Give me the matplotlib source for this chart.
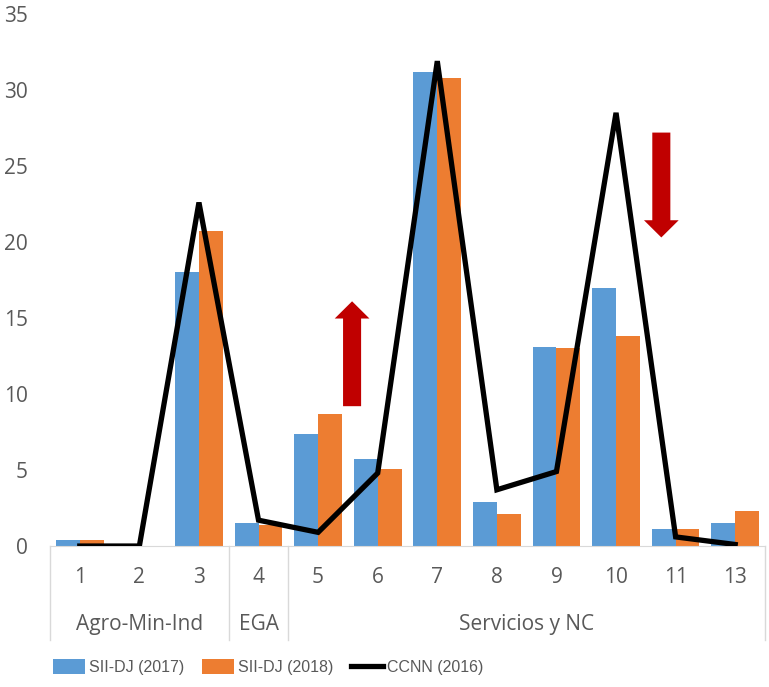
import matplotlib
matplotlib.use("Agg")
import matplotlib.pyplot as plt
from matplotlib import font_manager
import numpy as np

# Sector codes and values (percent)
sectors = ["1", "2", "3", "4", "5", "6", "7", "8", "9", "10", "11", "13"]
sii_2017 = [0.4, 0.0, 18.0, 1.5, 7.4, 5.7, 31.2, 2.9, 13.1, 17.0, 1.1, 1.5]
sii_2018 = [0.4, 0.0, 20.7, 1.4, 8.7, 5.1, 30.8, 2.1, 13.0, 13.8, 1.1, 2.3]
ccnn_2016 = [0.0, 0.0, 22.6, 1.7, 0.9, 4.8, 31.9, 3.7, 4.9, 28.5, 0.6, 0.1]

# Grouping of sectors on the second axis level: (label, first index, last index)
groups = [("Agro-Min-Ind", 0, 2), ("EGA", 3, 3), ("Servicios y NC", 4, 11)]

# Red trend arrows: (x position in category units, tail value, tip value)
arrow_up = (4.57, 9.2, 16.1)
arrow_down = (9.76, 27.2, 20.3)

BLUE = "#5B9BD5"
ORANGE = "#ED7D31"
RED = "#C00000"
GRAY_TXT = "#595959"
GRAY_LINE = "#D9D9D9"

names = {f.name for f in font_manager.fontManager.ttflist}
FONT = "Open Sans" if "Open Sans" in names else "DejaVu Sans"
LEG_FONT = "Liberation Sans" if "Liberation Sans" in names else FONT
plt.rcParams["font.family"] = FONT
FS = 15

fig = plt.figure(figsize=(7.69, 6.87), dpi=100)
ax = fig.add_axes([0.065, 0.2052, 0.9298, 0.7744])

x = np.arange(len(sectors))
w = 0.4
ax.bar(x - w / 2, sii_2017, w, color=BLUE, label="SII-DJ (2017)", zorder=2)
ax.bar(x + w / 2, sii_2018, w, color=ORANGE, label="SII-DJ (2018)", zorder=2)
ax.plot(x, ccnn_2016, color="black", lw=3.8, label="CCNN (2016)", zorder=3,
        solid_joinstyle="miter")

for xa, tail, tip in (arrow_up, arrow_down):
    ax.annotate("", xy=(xa, tip), xytext=(xa, tail),
                arrowprops=dict(arrowstyle="simple,head_width=1.25,head_length=0.62,tail_width=0.65",
                                color=RED, mutation_scale=20, shrinkA=0, shrinkB=0, lw=0),
                zorder=4)

ax.set_xlim(-0.5, len(sectors) - 0.5)
ax.set_ylim(0, 35)
ax.set_yticks(np.arange(0, 36, 5))
ax.tick_params(axis="y", length=0, pad=16, labelsize=FS, labelcolor=GRAY_TXT)
ax.set_xticks([])
for s in ("top", "right", "left"):
    ax.spines[s].set_visible(False)
ax.spines["bottom"].set_color(GRAY_LINE)

# Two-level category axis
trans = ax.get_xaxis_transform()
for i, s in enumerate(sectors):
    ax.text(i, -0.06, s, transform=trans, ha="center", va="center",
            fontsize=FS, color=GRAY_TXT)
edges = [-0.5]
for label, i0, i1 in groups:
    ax.text((i0 + i1) / 2, -0.147, label, transform=trans, ha="center", va="center",
            fontsize=FS, color=GRAY_TXT)
    edges.append(i1 + 0.5)
for e in edges:
    ax.plot([e, e], [0, -0.177], transform=trans, color=GRAY_LINE, lw=1,
            clip_on=False)

handles, labels = ax.get_legend_handles_labels()
order = [1, 2, 0]
fig.legend([handles[i] for i in order], [labels[i] for i in order],
           loc="center", bbox_to_anchor=(0.349, 0.029), ncol=3, frameon=False,
           handlelength=2.0, handleheight=1.0, handletextpad=0.25, columnspacing=1.1,
           prop=dict(family=LEG_FONT, size=11.5), labelcolor=GRAY_TXT)

fig.savefig("out.png", dpi=100)
